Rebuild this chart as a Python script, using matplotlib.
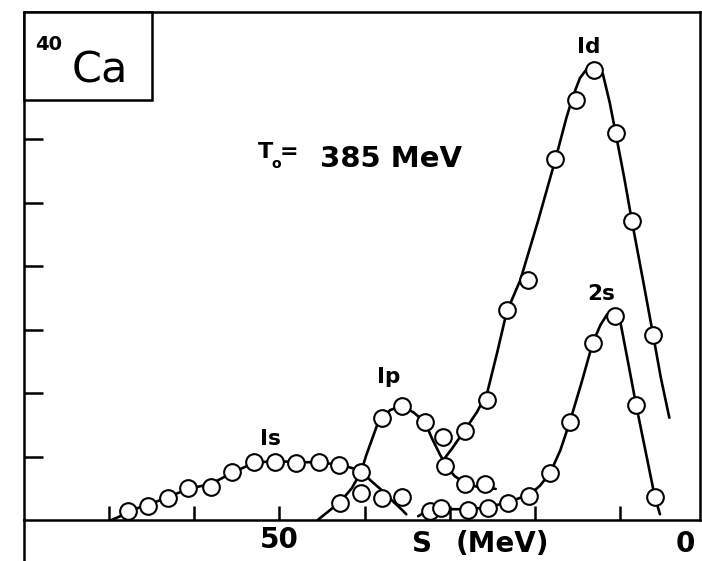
import matplotlib
matplotlib.use("Agg")
import matplotlib.pyplot as plt
from matplotlib.patches import Rectangle
from matplotlib.lines import Line2D

plt.rcParams["font.family"] = ["DejaVu Sans"]

# Measured momentum-distribution yields vs separation energy S (MeV), 40Ca(p,2p), T0 = 385 MeV
s1_energy = [67.8, 65.4, 63.1, 60.7, 58.0, 55.6, 53.0, 50.5, 48.0, 45.4, 43.0, 40.4, 37.9, 35.6]
s1_yield = [0.14, 0.22, 0.35, 0.50, 0.52, 0.76, 0.91, 0.91, 0.90, 0.91, 0.87, 0.43, 0.35, 0.36]

p1_energy = [42.9, 40.4, 37.9, 35.6, 32.9, 30.6, 28.2, 25.9]
p1_yield = [0.27, 0.76, 1.61, 1.80, 1.54, 0.85, 0.57, 0.57]

d1_energy = [30.8, 28.2, 25.6, 23.3, 20.8, 17.6, 15.2, 13.1, 10.5, 8.6, 6.1]
d1_yield = [1.31, 1.40, 1.89, 3.31, 3.78, 5.69, 6.61, 7.09, 6.09, 4.71, 2.91]

s2_energy = [32.3, 31.0, 27.9, 25.5, 23.2, 20.7, 18.2, 15.9, 13.2, 10.6, 8.1, 5.9]
s2_yield = [0.14, 0.19, 0.16, 0.19, 0.27, 0.38, 0.74, 1.54, 2.79, 3.21, 1.81, 0.36]

# Hand-drawn guide curves through each shell's data
s1_curve_e = [69.7, 68.7, 67.8, 65.4, 63.1, 60.7, 58.0, 55.6, 53.0, 50.5, 48.0, 45.4,
              43.0, 41.5, 40.4, 39.1, 37.9, 36.8, 35.6, 35.1]
s1_curve_y = [0.00, 0.06, 0.14, 0.24, 0.36, 0.49, 0.57, 0.74, 0.90, 0.93, 0.91, 0.91,
              0.87, 0.82, 0.76, 0.60, 0.46, 0.31, 0.16, 0.09]

p1_curve_e = [45.5, 44.3, 42.9, 41.5, 40.4, 39.8, 39.1, 38.4, 37.0, 35.6, 34.2, 32.9,
              32.1, 31.1, 30.3, 29.4, 28.2, 26.7, 24.6]
p1_curve_y = [0.00, 0.13, 0.28, 0.50, 0.76, 1.02, 1.28, 1.54, 1.73, 1.80, 1.69, 1.54,
              1.29, 1.02, 0.83, 0.69, 0.58, 0.52, 0.49]

d1_curve_e = [31.0, 29.7, 28.2, 26.8, 25.6, 24.4, 23.3, 21.7, 19.6, 17.6, 16.3, 15.5,
              14.7, 13.8, 12.8, 12.0, 11.2, 10.5, 9.5, 8.6, 7.3, 6.1, 5.2, 4.2]
d1_curve_y = [0.90, 1.13, 1.42, 1.70, 2.00, 2.65, 3.28, 3.78, 4.72, 5.67, 6.33, 6.68,
              6.96, 7.12, 7.15, 7.02, 6.57, 6.09, 5.39, 4.71, 3.78, 2.91, 2.24, 1.61]

s2_curve_e = [33.7, 32.8, 31.5, 29.7, 27.9, 25.5, 23.2, 21.7, 20.7, 19.4, 18.2, 17.0,
              15.9, 14.5, 13.2, 12.3, 11.5, 10.7, 10.0, 9.1, 8.1, 6.9, 5.9, 5.3]
s2_curve_y = [0.06, 0.13, 0.17, 0.17, 0.17, 0.20, 0.28, 0.35, 0.39, 0.54, 0.74, 1.10,
              1.54, 2.17, 2.79, 3.07, 3.24, 3.28, 3.15, 2.52, 1.81, 1.02, 0.36, 0.09]

x_ticks = [70, 60, 50, 40, 30, 20, 10]
x_tick_labels = ["", "", "50", "", "", "", ""]
y_ticks = [1, 2, 3, 4, 5, 6, 7]

fig = plt.figure(figsize=(7.02, 5.61), dpi=100)
ax = fig.add_axes([24 / 702, 41 / 561, 676 / 702, 508 / 561])

ax.set_xlim(80, 0.6)
ax.set_ylim(0, 8)

lw = 1.8
for sp in ax.spines.values():
    sp.set_linewidth(lw)
    sp.set_color("black")

ax.set_xticks(x_ticks)
ax.set_xticklabels(x_tick_labels)
ax.set_yticks(y_ticks)
ax.set_yticklabels([])
ax.tick_params(axis="x", direction="in", length=10, width=lw, labelsize=20, pad=4)
ax.tick_params(axis="y", direction="in", length=13.5, width=lw)
for lab in ax.get_xticklabels():
    lab.set_fontweight("bold")

# curves
for e, y in [(s1_curve_e, s1_curve_y), (p1_curve_e, p1_curve_y),
             (d1_curve_e, d1_curve_y), (s2_curve_e, s2_curve_y)]:
    ax.plot(e, y, color="black", lw=1.9, solid_joinstyle="round",
            solid_capstyle="round", zorder=3)

# data points as open circles
for e, y in [(s1_energy, s1_yield), (p1_energy, p1_yield),
             (d1_energy, d1_yield), (s2_energy, s2_yield)]:
    ax.plot(e, y, linestyle="none", marker="o", ms=12, mfc="white",
            mec="black", mew=1.5, zorder=4)

# nucleus label box in upper-left corner
ax.add_patch(Rectangle((0, 0.827), 0.189, 0.173, transform=ax.transAxes,
                       facecolor="white", edgecolor="black", lw=lw,
                       zorder=6, clip_on=False))
ax.text(0.016, 0.925, "40", transform=ax.transAxes, fontsize=14,
        fontweight="bold", ha="left", va="baseline", zorder=7)
ax.text(0.071, 0.862, "Ca", transform=ax.transAxes, fontsize=31,
        fontweight="normal", ha="left", va="baseline", zorder=7)

# beam energy
ax.text(0.346, 0.713, "T", transform=ax.transAxes, fontsize=16,
        fontweight="bold", ha="left", va="baseline")
ax.text(0.366, 0.693, "o", transform=ax.transAxes, fontsize=10,
        fontweight="bold", ha="left", va="baseline")
ax.text(0.378, 0.725, "=", transform=ax.transAxes, fontsize=16,
        fontweight="bold", ha="left", va="center")
ax.text(0.438, 0.695, "385 MeV", transform=ax.transAxes, fontsize=21,
        fontweight="bold", ha="left", va="baseline")

# shell labels
shell_kw = dict(transform=ax.transAxes, fontsize=15.5, fontweight="bold",
                ha="left", va="baseline")
ax.text(0.349, 0.148, "Is", **shell_kw)
ax.text(0.522, 0.270, "Ip", **shell_kw)
ax.text(0.818, 0.919, "Id", **shell_kw)
ax.text(0.833, 0.433, "2s", **shell_kw)

# axis title and the zero label beneath the axis
ax.text(0.574, -0.063, "S", transform=ax.transAxes, fontsize=20,
        fontweight="bold", ha="left", va="baseline")
ax.text(0.638, -0.063, "(MeV)", transform=ax.transAxes, fontsize=20,
        fontweight="bold", ha="left", va="baseline")
ax.text(0.978, -0.063, "0", transform=ax.transAxes, fontsize=20,
        fontweight="bold", ha="center", va="baseline")

# left frame line continues below the energy axis
fig.add_artist(Line2D([24 / 702, 24 / 702], [0, 41 / 561], color="black",
                      lw=lw, transform=fig.transFigure))

fig.savefig("out.png", dpi=100)
